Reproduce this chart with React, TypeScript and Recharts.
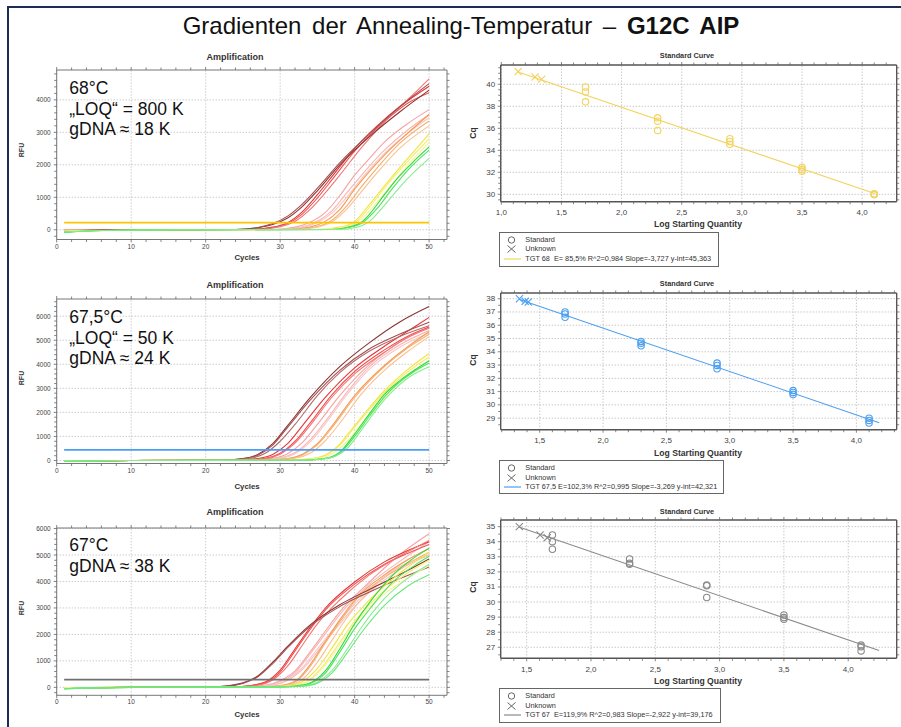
import React from 'react';
import { LineChart, ComposedChart, Line, Scatter, XAxis, YAxis, ReferenceLine } from 'recharts';

type Pt = [number, number];

/* ---------------- tick labels ---------------- */
const range = (a: number, b: number, s: number): number[] => {
  const out: number[] = [];
  for (let v = a; v <= b + 1e-9; v += s) out.push(Math.round(v * 1000) / 1000);
  return out;
};
const AMP_X_MAJOR = [0, 10, 20, 30, 40, 50];
const AMP_X_ALL = range(0, 52, 2);
const AMP68_Y_MAJOR = [0, 1000, 2000, 3000, 4000];
const AMP68_Y_ALL = range(-200, 4800, 200);
const AMP675_Y_MAJOR = [0, 1000, 2000, 3000, 4000, 5000, 6000];
const AMP675_Y_ALL = range(0, 6600, 200);
const AMP67_Y_MAJOR = [0, 1000, 2000, 3000, 4000, 5000, 6000];
const AMP67_Y_ALL = range(-200, 6000, 200);

const SC68_X_MAJOR = [1.0, 1.5, 2.0, 2.5, 3.0, 3.5, 4.0];
const SC68_X_ALL = range(1.0, 4.2, 0.1);
const SC68_Y_MAJOR = [30, 32, 34, 36, 38, 40];
const SC68_Y_ALL = range(29.5, 41.5, 0.5);
const SC675_X_MAJOR = [1.5, 2.0, 2.5, 3.0, 3.5, 4.0];
const SC675_X_ALL = range(1.2, 4.3, 0.1);
const SC675_Y_MAJOR = [29, 30, 31, 32, 33, 34, 35, 36, 37, 38];
const SC675_Y_ALL = range(28.5, 38, 0.5);
const SC67_X_MAJOR = [1.5, 2.0, 2.5, 3.0, 3.5, 4.0];
const SC67_X_ALL = range(1.3, 4.3, 0.1);
const SC67_Y_MAJOR = [27, 28, 29, 30, 31, 32, 33, 34, 35];
const SC67_Y_ALL = range(26.5, 35, 0.5);

/* ---------------- amplification curves: 68 °C ---------------- */
const AMP68_BROWN: Pt[][] = [
  [[1, -30], [10, 0], [24, 10], [27, 60], [29, 160], [31, 360], [33, 720], [35, 1200], [38, 2000], [42, 2870], [46, 3620], [50, 4300]],
  [[1, -30], [10, 0], [24, 10], [27, 70], [29, 190], [31, 420], [33, 800], [35, 1280], [38, 2060], [42, 2950], [46, 3780], [50, 4500]],
];
const AMP68_RED: Pt[][] = [
  [[1, -30], [12, 0], [26, 10], [29, 80], [31, 220], [33, 560], [35, 1080], [37, 1650], [40, 2500], [44, 3400], [47, 3950], [50, 4420]],
  [[1, -30], [12, 0], [26, 10], [29, 70], [31, 190], [33, 490], [35, 980], [37, 1550], [40, 2420], [44, 3330], [47, 3880], [50, 4220]],
  [[1, -20], [12, 0], [27, 10], [30, 90], [32, 260], [34, 620], [36, 1120], [38, 1680], [41, 2550], [45, 3550], [48, 4200], [50, 4650]],
];
const AMP68_PINK: Pt[][] = [
  [[1, -20], [14, 0], [29, 10], [32, 80], [34, 230], [36, 520], [38, 1050], [40, 1680], [42, 2200], [44, 2700], [47, 3250], [50, 3700]],
  [[1, -20], [14, 0], [30, 10], [33, 90], [35, 260], [37, 600], [39, 1150], [41, 1700], [44, 2450], [47, 3050], [50, 3550]],
  [[1, -20], [14, 0], [30, 10], [33, 70], [35, 220], [37, 520], [39, 1020], [41, 1600], [44, 2350], [47, 2950], [50, 3450]],
];
const AMP68_ORANGE: Pt[][] = [
  [[1, -20], [14, 0], [31, 10], [34, 80], [36, 250], [38, 620], [40, 1250], [42, 1800], [44, 2300], [47, 2950], [50, 3550]],
  [[1, -20], [14, 0], [32, 10], [35, 100], [37, 300], [39, 750], [41, 1350], [43, 1900], [46, 2650], [50, 3350]],
  [[1, -20], [14, 0], [32, 10], [35, 80], [37, 250], [39, 650], [41, 1200], [43, 1750], [46, 2500], [50, 3200]],
];
const AMP68_YELLOW: Pt[][] = [
  [[1, -40], [16, 0], [35, 10], [38, 80], [40, 260], [42, 780], [44, 1350], [46, 1900], [48, 2420], [50, 2950]],
  [[1, -40], [16, 0], [36, 10], [38, 60], [40, 210], [42, 700], [44, 1280], [46, 1820], [48, 2320], [50, 2800]],
  [[1, -40], [16, 0], [36, 10], [39, 90], [41, 350], [43, 850], [45, 1400], [47, 1950], [50, 2700]],
];
const AMP68_GREEN: Pt[][] = [
  [[1, -80], [5, -30], [16, 0], [37, 10], [39, 70], [41, 250], [42, 480], [44, 1080], [46, 1650], [48, 2120], [50, 2550]],
  [[1, -80], [5, -30], [16, 0], [37, 10], [39, 60], [41, 210], [43, 650], [45, 1250], [47, 1800], [50, 2450]],
  [[1, -70], [5, -30], [16, 0], [38, 10], [40, 60], [42, 260], [44, 750], [46, 1300], [48, 1780], [50, 2200]],
];
const AMP68_THRESHOLD: Pt[] = [[1, 220], [50, 220]];

/* ---------------- amplification curves: 67,5 °C ---------------- */
const AMP675_BROWN: Pt[][] = [
  [[1, -10], [10, 0], [22, 10], [25, 80], [27, 250], [29, 700], [31, 1450], [34, 2600], [38, 3900], [42, 4900], [46, 5750], [50, 6400]],
  [[1, -10], [10, 0], [22, 10], [25, 70], [27, 220], [29, 640], [31, 1380], [34, 2500], [38, 3750], [42, 4650], [46, 5250], [50, 5750]],
  [[1, -10], [10, 0], [23, 10], [26, 90], [28, 300], [30, 800], [32, 1500], [35, 2700], [38, 3650], [42, 4550], [46, 5150], [50, 5600]],
];
const AMP675_RED: Pt[][] = [
  [[1, -10], [10, 0], [24, 10], [27, 80], [29, 250], [31, 700], [33, 1450], [36, 2600], [40, 3850], [44, 4750], [47, 5350], [50, 5950]],
  [[1, -10], [10, 0], [25, 10], [28, 90], [30, 300], [32, 800], [34, 1550], [37, 2750], [40, 3700], [44, 4600], [47, 5150], [50, 5550]],
  [[1, -10], [10, 0], [25, 10], [28, 70], [30, 260], [32, 720], [34, 1450], [37, 2650], [40, 3600], [44, 4500], [47, 5100], [50, 5500]],
];
const AMP675_PINK: Pt[][] = [
  [[1, -10], [10, 0], [26, 10], [29, 90], [31, 280], [33, 750], [35, 1500], [38, 2700], [42, 4000], [46, 4900], [50, 5550]],
  [[1, -10], [10, 0], [27, 10], [30, 100], [32, 330], [34, 850], [36, 1600], [39, 2850], [42, 3900], [46, 4800], [50, 5400]],
  [[1, -10], [10, 0], [27, 10], [30, 80], [32, 280], [34, 760], [36, 1500], [39, 2750], [42, 3800], [46, 4700], [50, 5300]],
];
const AMP675_ORANGE: Pt[][] = [
  [[1, -10], [10, 0], [28, 10], [31, 80], [33, 260], [35, 700], [37, 1450], [40, 2700], [44, 3950], [47, 4700], [50, 5350]],
  [[1, -10], [10, 0], [28, 10], [31, 70], [33, 230], [35, 650], [37, 1380], [40, 2620], [44, 3900], [47, 4650], [50, 5250]],
  [[1, -10], [10, 0], [29, 10], [32, 90], [34, 300], [36, 800], [38, 1550], [41, 2800], [44, 3750], [47, 4500], [50, 5150]],
];
const AMP675_YELLOW: Pt[][] = [
  [[1, -10], [10, 0], [31, 10], [34, 70], [36, 220], [38, 680], [40, 1450], [42, 2200], [44, 2900], [47, 3750], [50, 4450]],
  [[1, -10], [10, 0], [31, 10], [34, 60], [36, 190], [38, 620], [40, 1380], [42, 2120], [44, 2820], [47, 3650], [50, 4300]],
  [[1, -10], [10, 0], [32, 10], [35, 80], [37, 280], [39, 800], [41, 1550], [43, 2250], [46, 3250], [50, 4150]],
];
const AMP675_GREEN: Pt[][] = [
  [[1, -30], [10, 0], [33, 10], [35, 50], [37, 170], [38, 350], [40, 1100], [42, 1950], [44, 2750], [46, 3300], [48, 3750], [50, 4150]],
  [[1, -30], [10, 0], [33, 10], [35, 40], [37, 140], [38, 300], [40, 1000], [42, 1850], [44, 2650], [46, 3250], [48, 3700], [50, 4050]],
  [[1, -30], [10, 0], [33, 10], [35, 40], [37, 130], [39, 500], [41, 1300], [43, 2150], [45, 2850], [47, 3400], [50, 3900]],
];
const AMP675_THRESHOLD: Pt[] = [[1, 440], [50, 440]];

/* ---------------- amplification curves: 67 °C ---------------- */
const AMP67_BROWN: Pt[][] = [
  [[1, -20], [10, 0], [20, 10], [23, 60], [25, 170], [27, 430], [29, 950], [31, 1550], [34, 2350], [38, 3120], [42, 3700], [46, 4250], [50, 4850]],
  [[1, -20], [10, 0], [20, 10], [23, 50], [25, 150], [27, 400], [29, 900], [31, 1500], [34, 2300], [38, 3050], [42, 3600], [46, 4100], [50, 4550]],
];
const AMP67_RED: Pt[][] = [
  [[1, -20], [10, 0], [23, 10], [26, 70], [28, 200], [30, 650], [32, 1460], [34, 2250], [36, 2970], [40, 3980], [44, 4740], [47, 5150], [50, 5500]],
  [[1, -20], [10, 0], [23, 10], [26, 60], [28, 170], [30, 580], [32, 1380], [34, 2180], [36, 2900], [40, 3900], [44, 4650], [47, 5050], [50, 5400]],
  [[1, -20], [10, 0], [24, 10], [27, 80], [29, 280], [31, 800], [33, 1600], [35, 2400], [38, 3300], [42, 4250], [46, 4950], [50, 5550]],
];
const AMP67_PINK: Pt[][] = [
  [[1, -20], [10, 0], [25, 10], [28, 80], [30, 250], [32, 620], [34, 1330], [36, 2100], [38, 2850], [42, 3980], [46, 5000], [50, 5800]],
  [[1, -20], [10, 0], [25, 10], [28, 70], [30, 220], [32, 560], [34, 1250], [36, 2000], [38, 2750], [42, 3900], [46, 4750], [50, 5500]],
  [[1, -20], [10, 0], [26, 10], [29, 90], [31, 300], [33, 750], [35, 1450], [37, 2150], [40, 3150], [44, 4200], [47, 4800], [50, 5250]],
  [[1, -20], [10, 0], [26, 10], [29, 80], [31, 260], [33, 680], [35, 1350], [37, 2050], [40, 3050], [44, 4050], [47, 4600], [50, 5000]],
];
const AMP67_ORANGE: Pt[][] = [
  [[1, -20], [10, 0], [27, 10], [30, 70], [32, 230], [34, 850], [36, 1710], [38, 2550], [40, 3300], [44, 4250], [47, 4800], [50, 5250]],
  [[1, -20], [10, 0], [27, 10], [30, 60], [32, 200], [34, 780], [36, 1650], [38, 2480], [40, 3250], [44, 4150], [47, 4650], [50, 5100]],
  [[1, -20], [10, 0], [28, 10], [31, 80], [33, 300], [35, 950], [37, 1800], [39, 2650], [42, 3650], [46, 4550], [50, 5000]],
];
const AMP67_YELLOW: Pt[][] = [
  [[1, -20], [10, 0], [28, 10], [31, 60], [33, 220], [35, 720], [37, 1500], [39, 2350], [42, 3300], [46, 4300], [50, 5100]],
  [[1, -20], [10, 0], [29, 10], [32, 80], [34, 300], [36, 900], [38, 1700], [40, 2500], [43, 3400], [47, 4300], [50, 4800]],
  [[1, -20], [10, 0], [29, 10], [32, 70], [34, 260], [36, 820], [38, 1600], [40, 2400], [43, 3300], [47, 4100], [50, 4600]],
];
const AMP67_GREEN: Pt[][] = [
  [[1, -50], [10, 0], [29, 10], [32, 50], [34, 160], [36, 600], [38, 1450], [40, 2400], [42, 3200], [45, 4200], [48, 4900], [50, 5250]],
  [[1, -50], [10, 0], [29, 10], [32, 40], [34, 140], [36, 520], [38, 1330], [40, 2220], [42, 2950], [45, 3950], [48, 4600], [50, 4950]],
  [[1, -50], [10, 0], [30, 10], [33, 50], [35, 200], [37, 650], [39, 1450], [41, 2300], [44, 3350], [47, 4100], [50, 4650]],
  [[1, -50], [10, 0], [30, 10], [33, 40], [35, 160], [37, 560], [39, 1300], [41, 2100], [44, 3100], [47, 3800], [50, 4250]],
];
const AMP67_THRESHOLD: Pt[] = [[1, 290], [50, 290]];

/* ---------------- standard curves ---------------- */
const SC68_STANDARD: Pt[] = [
  [1.7, 39.75], [1.7, 39.3], [1.7, 38.4], [2.3, 36.95], [2.3, 36.65], [2.3, 35.8], [2.9, 35.05], [2.9, 34.8], [2.9, 34.55],
  [3.5, 32.45], [3.5, 32.25], [3.5, 32.1], [4.1, 30.05], [4.1, 30.0], [4.1, 29.95],
];
const SC68_UNKNOWN: Pt[] = [[1.14, 41.15], [1.28, 40.65], [1.335, 40.45]];
const SC68_FIT: Pt[] = [[1.14, 41.11], [4.11, 30.05]];

const SC675_STANDARD: Pt[] = [
  [1.7, 37.0], [1.7, 36.85], [1.7, 36.6], [2.3, 34.78], [2.3, 34.65], [2.3, 34.45], [2.9, 33.15], [2.9, 32.97], [2.9, 32.72],
  [3.5, 31.08], [3.5, 30.94], [3.5, 30.78], [4.1, 29.0], [4.1, 28.83], [4.1, 28.63],
];
const SC675_UNKNOWN: Pt[] = [[1.34, 38.0], [1.385, 37.8], [1.41, 37.75]];
const SC675_FIT: Pt[] = [[1.34, 37.94], [4.18, 28.66]];

const SC67_STANDARD: Pt[] = [
  [1.7, 34.45], [1.7, 34.0], [1.7, 33.5], [2.3, 32.86], [2.3, 32.58], [2.3, 32.5], [2.9, 31.13], [2.9, 31.08], [2.9, 30.3],
  [3.5, 29.14], [3.5, 28.97], [3.5, 28.86], [4.1, 27.15], [4.1, 27.04], [4.1, 26.76],
];
const SC67_UNKNOWN: Pt[] = [[1.443, 35.0], [1.604, 34.45], [1.66, 34.27]];
const SC67_FIT: Pt[] = [[1.44, 34.97], [4.24, 26.79]];

const SC68_LEGEND = 'TGT 68  E= 85,5% R^2=0,984 Slope=-3,727 y-int=45,363';
const SC675_LEGEND = 'TGT 67,5 E=102,3% R^2=0,995 Slope=-3,269 y-int=42,321';
const SC67_LEGEND = 'TGT 67  E=119,9% R^2=0,983 Slope=-2,922 y-int=39,176';

/* ---------------- styles ---------------- */
const FONT = '"Liberation Sans", Arial, Helvetica, sans-serif';
const BROWNS = ['#8c3434', '#a34f4f', '#b56a6a'];
const REDS = ['#e53535', '#ef5252', '#f37474'];
const PINKS = ['#f6a3a3', '#f8b6b6', '#f9c6c6', '#f7bdbd'];
const ORANGES = ['#f59b52', '#f7ae72', '#f9c092'];
const YELLOWS = ['#f2e43c', '#f6ec6c', '#f9f29a'];
const GREENS = ['#28dc38', '#4fe45e', '#86ee90', '#6ae878'];
const TICK_COLOR = '#666';

type Side = 'bottom' | 'top' | 'left' | 'right';
interface TickOpt { fs: number; gap: number; maj: number; min: number; label: boolean; fmt?: (v: number) => string; color?: string }

function mkTick(side: Side, majors: number[], opt: TickOpt) {
  return (p: any) => {
    const v = Number(p?.payload?.value);
    const x = Number(p.x);
    const y = Number(p.y);
    const isMaj = majors.some((m) => Math.abs(m - v) < 1e-6);
    const L = isMaj ? opt.maj : opt.min;
    const st = { stroke: TICK_COLOR, strokeWidth: 0.8 };
    const fmt = opt.fmt || ((n: number) => String(n));
    const tprops = { fontSize: opt.fs, fill: opt.color || '#444', fontFamily: FONT };
    let ln: any = null;
    let tx: any = null;
    if (side === 'bottom') {
      ln = <line x1={x} y1={y} x2={x} y2={y + L} {...st} />;
      if (opt.label && isMaj)
        tx = (
          <text x={x} y={y + opt.gap} textAnchor="middle" dominantBaseline="central" {...tprops}>
            {fmt(v)}
          </text>
        );
    } else if (side === 'top') {
      ln = <line x1={x} y1={y} x2={x} y2={y - L} {...st} />;
    } else if (side === 'left') {
      ln = <line x1={x - L} y1={y} x2={x} y2={y} {...st} />;
      if (opt.label && isMaj)
        tx = (
          <text x={x - opt.gap} y={y} textAnchor="end" dominantBaseline="central" {...tprops}>
            {fmt(v)}
          </text>
        );
    } else {
      ln = <line x1={x} y1={y} x2={x + L} y2={y} {...st} />;
    }
    return (
      <g>
        {ln}
        {tx}
      </g>
    );
  };
}

const toObj = (pts: Pt[]) => pts.map(([x, y]) => ({ x, y }));
const comma = (v: number) => v.toFixed(1).replace('.', ',');

interface Rect { l: number; r: number; t: number; b: number }
interface Fam { curves: Pt[][]; colors: string[] }

// every axis is 1px thick so that Recharts draws it; margins are reduced by that 1px
const AX = 1;

function axes(p: {
  xDomain: [number, number]; yDomain: [number, number]; xMajor: number[]; xAll: number[]; yMajor: number[]; yAll: number[];
  frameColor: string; frameWidth: number; xOpt: TickOpt; yOpt: TickOpt; grid: string;
}) {
  const al = { stroke: p.frameColor, strokeWidth: p.frameWidth };
  const common = { allowDataOverflow: true, interval: 0 as const, tickSize: 0, tickMargin: 0, tickLine: false, axisLine: al };
  const hidden = { ...p.xOpt, label: false };
  const hiddenY = { ...p.yOpt, label: false };
  return [
    ...p.xMajor.map((v) => (
      <ReferenceLine key={'gx' + v} xAxisId="b" yAxisId="l" x={v} stroke={p.grid} strokeDasharray="1 2" strokeWidth={1} />
    )),
    ...p.yMajor.map((v) => (
      <ReferenceLine key={'gy' + v} xAxisId="b" yAxisId="l" y={v} stroke={p.grid} strokeDasharray="1 2" strokeWidth={1} />
    )),
    <XAxis key="xb" xAxisId="b" type="number" dataKey="x" domain={p.xDomain} ticks={p.xAll} height={AX} tick={mkTick('bottom', p.xMajor, p.xOpt)} {...common} />,
    <XAxis key="xt" xAxisId="t" orientation="top" type="number" dataKey="x" domain={p.xDomain} ticks={p.xAll} height={AX} tick={mkTick('top', p.xMajor, hidden)} {...common} />,
    <YAxis key="yl" yAxisId="l" type="number" dataKey="y" domain={p.yDomain} ticks={p.yAll} width={AX} tick={mkTick('left', p.yMajor, p.yOpt)} {...common} />,
    <YAxis key="yr" yAxisId="r" orientation="right" type="number" dataKey="y" domain={p.yDomain} ticks={p.yAll} width={AX} tick={mkTick('right', p.yMajor, hiddenY)} {...common} />,
  ];
}

function AmpPanel(props: { rect: Rect; yDomain: [number, number]; yMajor: number[]; yAll: number[]; fams: Fam[]; thr: Pt[]; thrColor: string }) {
  const { rect, yDomain, yMajor, yAll, fams, thr, thrColor } = props;
  const W = 460;
  const padT = 10;
  const padB = 16;
  const H = rect.b - rect.t + padT + padB;
  return (
    <div style={{ position: 'absolute', left: 0, top: rect.t - padT }}>
      <LineChart width={W} height={H} margin={{ top: padT - AX, bottom: padB - AX, left: rect.l - AX, right: W - rect.r - AX }}>
        {axes({
          xDomain: [0, 52.4], yDomain, xMajor: AMP_X_MAJOR, xAll: AMP_X_ALL, yMajor, yAll,
          frameColor: '#777', frameWidth: 1, grid: '#b5b5b5',
          xOpt: { fs: 6.5, gap: 6.5, maj: 3, min: 2.5, label: true },
          yOpt: { fs: 6.5, gap: 6, maj: 3, min: 2.5, label: true },
        })}
        {fams.flatMap((f, fi) =>
          f.curves.map((c, ci) => (
            <Line
              key={`c${fi}-${ci}`}
              xAxisId="b"
              yAxisId="l"
              data={toObj(c)}
              dataKey="y"
              type="monotone"
              dot={false}
              activeDot={false}
              stroke={f.colors[ci % f.colors.length]}
              strokeWidth={1.1}
              isAnimationActive={false}
            />
          ))
        )}
        <Line xAxisId="b" yAxisId="l" data={toObj(thr)} dataKey="y" type="linear" dot={false} activeDot={false} stroke={thrColor} strokeWidth={1.8} isAnimationActive={false} />
      </LineChart>
    </div>
  );
}

function ScPanel(props: {
  rect: Rect; xDomain: [number, number]; yDomain: [number, number]; xMajor: number[]; xAll: number[]; yMajor: number[]; yAll: number[];
  std: Pt[]; unk: Pt[]; fit: Pt[]; color: string;
}) {
  const { rect, color } = props;
  const L0 = 460;
  const W = 441;
  const padT = 8;
  const padB = 18;
  const H = rect.b - rect.t + padT + padB;
  const circle = (p: any) => <circle cx={p.cx} cy={p.cy} r={3.2} fill="none" stroke={color} strokeWidth={1.1} />;
  const cross = (p: any) => {
    const s = 3.6;
    return (
      <path
        d={`M${p.cx - s},${p.cy - s}L${p.cx + s},${p.cy + s}M${p.cx - s},${p.cy + s}L${p.cx + s},${p.cy - s}`}
        stroke={color}
        strokeWidth={1.1}
        fill="none"
      />
    );
  };
  return (
    <div style={{ position: 'absolute', left: L0, top: rect.t - padT }}>
      <ComposedChart width={W} height={H} margin={{ top: padT - AX, bottom: padB - AX, left: rect.l - L0 - AX, right: L0 + W - rect.r - AX }}>
        {axes({
          xDomain: props.xDomain, yDomain: props.yDomain, xMajor: props.xMajor, xAll: props.xAll, yMajor: props.yMajor, yAll: props.yAll,
          frameColor: '#555', frameWidth: 1.4, grid: '#b0b0b0',
          xOpt: { fs: 8, gap: 11, maj: 3, min: 2.5, label: true, fmt: comma },
          yOpt: { fs: 8, gap: 5.5, maj: 3, min: 2.5, label: true },
        })}
        <Line xAxisId="b" yAxisId="l" data={toObj(props.fit)} dataKey="y" type="linear" dot={false} activeDot={false} stroke={color} strokeWidth={1.1} isAnimationActive={false} />
        <Scatter xAxisId="b" yAxisId="l" data={toObj(props.std)} dataKey="y" shape={circle} isAnimationActive={false} />
        <Scatter xAxisId="b" yAxisId="l" data={toObj(props.unk)} dataKey="y" shape={cross} isAnimationActive={false} />
      </ComposedChart>
    </div>
  );
}

function Txt(props: { x: number; y: number; size: number; bold?: boolean; rotate?: boolean; color?: string; children: any }) {
  return (
    <div
      style={{
        position: 'absolute', left: props.x, top: props.y, fontSize: props.size, lineHeight: 1,
        fontWeight: props.bold ? 700 : 400, color: props.color || '#333', whiteSpace: 'nowrap',
        transform: `translate(-50%,-50%)${props.rotate ? ' rotate(-90deg)' : ''}`,
      }}
    >
      {props.children}
    </div>
  );
}

function Note(props: { x: number; y: number; lines: string[] }) {
  return (
    <div style={{ position: 'absolute', left: props.x, top: props.y, fontSize: 17.5, lineHeight: '20.8px', color: '#111', whiteSpace: 'pre' }}>
      {props.lines.map((l, i) => (
        <div key={i}>{l}</div>
      ))}
    </div>
  );
}

function Legend(props: { x: number; y: number; w: number; h: number; color: string; text: string }) {
  const row = (top: number, icon: any, label: string) => (
    <div style={{ position: 'absolute', left: 0, top, height: 10, width: '100%' }}>
      <svg width={24} height={10} style={{ position: 'absolute', left: 2, top: 0 }}>{icon}</svg>
      <div style={{ position: 'absolute', left: 25, top: 1, fontSize: 7.3, lineHeight: '8px', color: '#333', whiteSpace: 'pre' }}>{label}</div>
    </div>
  );
  return (
    <div style={{ position: 'absolute', left: props.x, top: props.y, width: props.w, height: props.h, border: '1.3px solid #666', boxSizing: 'border-box', background: '#fff' }}>
      {row(2, <circle cx={9.5} cy={5} r={3.2} fill="none" stroke="#666" strokeWidth={1} />, 'Standard')}
      {row(11.5, <path d="M5.5,1.5L13.5,8.5M5.5,8.5L13.5,1.5" stroke="#666" strokeWidth={1} />, 'Unknown')}
      {row(21, <line x1={2} y1={5} x2={19} y2={5} stroke={props.color} strokeWidth={1.2} />, props.text)}
    </div>
  );
}

export default function App() {
  const fam68: Fam[] = [
    { curves: AMP68_PINK, colors: PINKS }, { curves: AMP68_ORANGE, colors: ORANGES }, { curves: AMP68_RED, colors: REDS },
    { curves: AMP68_BROWN, colors: BROWNS }, { curves: AMP68_YELLOW, colors: YELLOWS }, { curves: AMP68_GREEN, colors: GREENS },
  ];
  const fam675: Fam[] = [
    { curves: AMP675_PINK, colors: PINKS }, { curves: AMP675_ORANGE, colors: ORANGES }, { curves: AMP675_RED, colors: REDS },
    { curves: AMP675_BROWN, colors: BROWNS }, { curves: AMP675_YELLOW, colors: YELLOWS }, { curves: AMP675_GREEN, colors: GREENS },
  ];
  const fam67: Fam[] = [
    { curves: AMP67_PINK, colors: PINKS }, { curves: AMP67_ORANGE, colors: ORANGES }, { curves: AMP67_RED, colors: REDS },
    { curves: AMP67_BROWN, colors: BROWNS }, { curves: AMP67_YELLOW, colors: YELLOWS }, { curves: AMP67_GREEN, colors: GREENS },
  ];
  return (
    <div style={{ position: 'absolute', left: 0, top: 0, width: 901, height: 727, overflow: 'hidden', background: '#fff', fontFamily: FONT }}>
      <div style={{ position: 'absolute', left: 7, top: 6, right: -2, bottom: -2, borderTop: '2px solid #1d2b5b', borderLeft: '2px solid #1d2b5b' }} />
      <div style={{ position: 'absolute', left: 461, top: 14, transform: 'translateX(-50%)', fontSize: 24, lineHeight: '24px', whiteSpace: 'pre', color: '#111', wordSpacing: 4 }}>
        Gradienten der Annealing-Temperatur – <b>G12C AIP</b>
      </div>

      {/* 68 °C */}
      <AmpPanel rect={{ l: 56.7, r: 447, t: 69.5, b: 239 }} yDomain={[-300, 4920]} yMajor={AMP68_Y_MAJOR} yAll={AMP68_Y_ALL} fams={fam68} thr={AMP68_THRESHOLD} thrColor="#ffc400" />
      <Txt x={235} y={57} size={9} bold>Amplification</Txt>
      <Txt x={247} y={258} size={7.8} bold>Cycles</Txt>
      <Txt x={21} y={150} size={7} bold rotate>RFU</Txt>
      <Note x={69.3} y={77.8} lines={['68°C', '„LOQ“ = 800 K', 'gDNA ≈ 18 K']} />

      <ScPanel rect={{ l: 500.7, r: 896.7, t: 65, b: 201.7 }} xDomain={[0.995, 4.287]} yDomain={[29.33, 41.75]} xMajor={SC68_X_MAJOR} xAll={SC68_X_ALL} yMajor={SC68_Y_MAJOR} yAll={SC68_Y_ALL} std={SC68_STANDARD} unk={SC68_UNKNOWN} fit={SC68_FIT} color="#f3d35f" />
      <Txt x={687} y={56} size={7.3} bold>Standard Curve</Txt>
      <Txt x={698} y={224.3} size={8.6} bold>Log Starting Quantity</Txt>
      <Txt x={473} y={133} size={8.5} bold rotate>Cq</Txt>
      <Legend x={499.3} y={231.7} w={220} h={35} color="#f3d35f" text={SC68_LEGEND} />

      {/* 67,5 °C */}
      <AmpPanel rect={{ l: 56.7, r: 447, t: 298.5, b: 463 }} yDomain={[-125, 6715]} yMajor={AMP675_Y_MAJOR} yAll={AMP675_Y_ALL} fams={fam675} thr={AMP675_THRESHOLD} thrColor="#4a9ff5" />
      <Txt x={235} y={285} size={9} bold>Amplification</Txt>
      <Txt x={247} y={487} size={7.8} bold>Cycles</Txt>
      <Txt x={21} y={378} size={7} bold rotate>RFU</Txt>
      <Note x={69.3} y={306.8} lines={['67,5°C', '„LOQ“ = 50 K', 'gDNA ≈ 24 K']} />

      <ScPanel rect={{ l: 500.7, r: 896.7, t: 293.3, b: 430 }} xDomain={[1.192, 4.318]} yDomain={[28.13, 38.43]} xMajor={SC675_X_MAJOR} xAll={SC675_X_ALL} yMajor={SC675_Y_MAJOR} yAll={SC675_Y_ALL} std={SC675_STANDARD} unk={SC675_UNKNOWN} fit={SC675_FIT} color="#4b9ff0" />
      <Txt x={687} y={284} size={7.3} bold>Standard Curve</Txt>
      <Txt x={698} y={452.7} size={8.6} bold>Log Starting Quantity</Txt>
      <Txt x={473} y={360} size={8.5} bold rotate>Cq</Txt>
      <Legend x={499.3} y={460} w={225} h={34} color="#4b9ff0" text={SC675_LEGEND} />

      {/* 67 °C */}
      <AmpPanel rect={{ l: 56.7, r: 447, t: 527.7, b: 695 }} yDomain={[-300, 6020]} yMajor={AMP67_Y_MAJOR} yAll={AMP67_Y_ALL} fams={fam67} thr={AMP67_THRESHOLD} thrColor="#707070" />
      <Txt x={235} y={512} size={9} bold>Amplification</Txt>
      <Txt x={247} y={715} size={7.8} bold>Cycles</Txt>
      <Txt x={21} y={608} size={7} bold rotate>RFU</Txt>
      <Note x={69.3} y={535.2} lines={['67°C', 'gDNA ≈ 38 K']} />

      <ScPanel rect={{ l: 500.7, r: 896.7, t: 520, b: 658.3 }} xDomain={[1.298, 4.377]} yDomain={[26.27, 35.44]} xMajor={SC67_X_MAJOR} xAll={SC67_X_ALL} yMajor={SC67_Y_MAJOR} yAll={SC67_Y_ALL} std={SC67_STANDARD} unk={SC67_UNKNOWN} fit={SC67_FIT} color="#8a8a8a" />
      <Txt x={687} y={511.7} size={7.3} bold>Standard Curve</Txt>
      <Txt x={698} y={680.7} size={8.6} bold>Log Starting Quantity</Txt>
      <Txt x={473} y={586.7} size={8.5} bold rotate>Cq</Txt>
      <Legend x={499.3} y={688} w={222} h={34.5} color="#8a8a8a" text={SC67_LEGEND} />
    </div>
  );
}
